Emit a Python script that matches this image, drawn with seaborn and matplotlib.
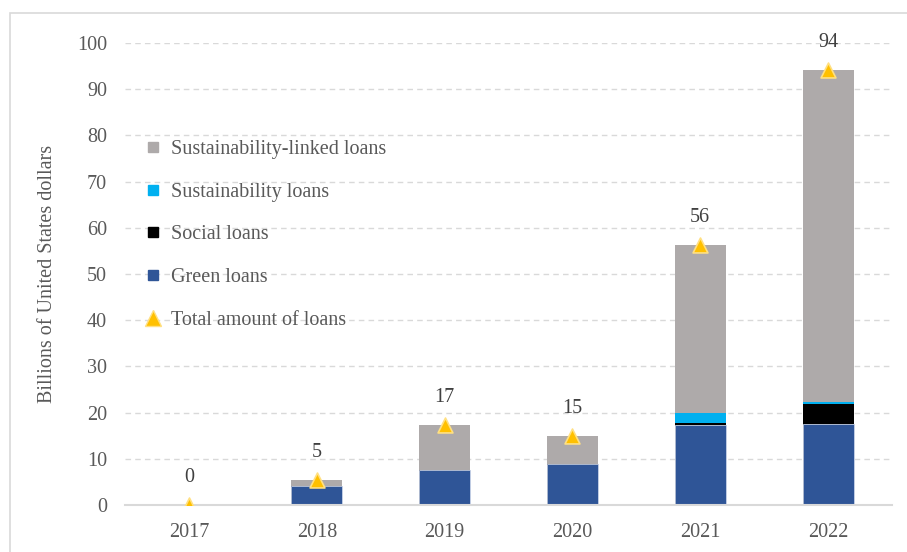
import numpy as np
import pandas as pd
import matplotlib
matplotlib.use("Agg")
import matplotlib.pyplot as plt
import seaborn as sns
from matplotlib.patches import Rectangle
from matplotlib.lines import Line2D

years = ["2017", "2018", "2019", "2020", "2021", "2022"]
green = [0.0, 4.1, 7.6, 8.9, 17.4, 17.5]
social = [0.0, 0.0, 0.0, 0.0, 0.3, 4.4]
sustainability = [0.0, 0.0, 0.0, 0.0, 2.2, 0.5]
sll = [0.0, 1.3, 9.8, 6.0, 36.4, 71.8]

series_names = ["Green loans", "Social loans", "Sustainability loans", "Sustainability-linked loans"]
colors = {"Green loans": "#2F5597", "Social loans": "#000000",
          "Sustainability loans": "#00B0F0", "Sustainability-linked loans": "#AEAAAA"}

df = pd.DataFrame({"year": years, "Green loans": green, "Social loans": social,
                   "Sustainability loans": sustainability,
                   "Sustainability-linked loans": sll})
cum = df[series_names].cumsum(axis=1)
total = cum["Sustainability-linked loans"].values

sns.set_style("white")
plt.rcParams["font.family"] = ["Liberation Serif", "DejaVu Serif"]
text_color = "#595959"
fs = 14.5

fig = plt.figure(figsize=(9.07, 5.52), dpi=100)
ax = fig.add_axes([125/907, 1-505/552, (892-125)/907, (505-43)/552])

# border of the figure
fig.patches.append(Rectangle((10/907, -0.05), 1.2, 1-13/552+0.05, transform=fig.transFigure,
                             fill=False, edgecolor="#D9D9D9", linewidth=1.2))

for name in reversed(series_names):
    sns.barplot(x=df["year"], y=cum[name], color=colors[name], width=0.4,
                ax=ax, edgecolor="#C9D3E8" if name == "Green loans" else "none",
                linewidth=0.6, saturation=1, zorder=3, errorbar=None)

ax.scatter(np.arange(len(years)), total, marker="^", s=115, color="#FFC000",
           edgecolor="#FFE082", linewidth=1.2, zorder=5)
for i, t in enumerate(total):
    ax.annotate(f"{round(t):d}", (i, t), xytext=(0, 13), textcoords="offset points",
                ha="center", va="bottom", fontsize=fs, color="#404040")

ax.set_ylim(0, 100)
ax.set_xlim(-0.5, 5.5)
ax.set_yticks(np.arange(0, 101, 10))
ax.yaxis.grid(True, linestyle=(0, (4, 3)), color="#D9D9D9", linewidth=1)
ax.set_axisbelow(True)
for s in ["top", "right", "left"]:
    ax.spines[s].set_visible(False)
ax.spines["bottom"].set_color("#D9D9D9")
ax.spines["bottom"].set_linewidth(1.5)
ax.spines["bottom"].set_zorder(4)
ax.tick_params(axis="both", length=0, labelsize=fs, labelcolor=text_color, pad=13)
ax.set_xlabel("")
ax.set_ylabel("Billions of United States dollars", fontsize=fs, color=text_color, labelpad=14)

handles = [Line2D([], [], marker="s", linestyle="none", markersize=7,
                  markerfacecolor=colors[n], markeredgecolor=colors[n])
           for n in reversed(series_names)]
handles.append(Line2D([], [], marker="^", linestyle="none", markersize=11,
                      markerfacecolor="#FFC000", markeredgecolor="#FFE082"))
labels = list(reversed(series_names)) + ["Total amount of loans"]
leg = ax.legend(handles, labels, loc="upper left", bbox_to_anchor=(-0.003, 0.83),
                frameon=False, fontsize=fs, labelspacing=1.18, handletextpad=0.3,
                handlelength=1.2, labelcolor=text_color)

fig.savefig("out.png", dpi=100)
